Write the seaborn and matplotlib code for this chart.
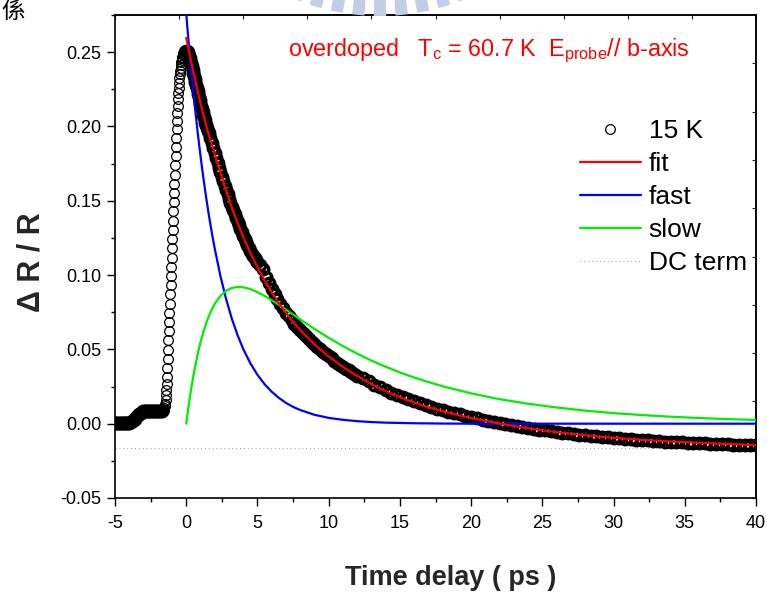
import numpy as np
import matplotlib
matplotlib.use("Agg")
import matplotlib.pyplot as plt
from matplotlib.patches import Wedge
from matplotlib.transforms import IdentityTransform
import seaborn as sns

# ---------------- data ----------------
# measured points (time delay in ps, dR/R)
pre_pts = np.array([
    [-5.0, 0.0004], [-4.9, 0.0006], [-4.8, 0.0003], [-4.7, 0.0005], [-4.6, 0.0004],
    [-4.5, 0.0006], [-4.4, 0.0004], [-4.3, 0.0005], [-4.2, 0.0006], [-4.1, 0.0005],
    [-4.0, 0.0007], [-3.9, 0.0010], [-3.8, 0.0016], [-3.7, 0.0024], [-3.6, 0.0034],
    [-3.5, 0.0045], [-3.4, 0.0056], [-3.3, 0.0066], [-3.2, 0.0074], [-3.1, 0.0080],
    [-3.0, 0.0083], [-2.9, 0.0085], [-2.8, 0.0086], [-2.7, 0.0086], [-2.6, 0.0085],
    [-2.5, 0.0086], [-2.4, 0.0087], [-2.3, 0.0086], [-2.2, 0.0085], [-2.1, 0.0084],
    [-2.0, 0.0085], [-1.9, 0.0085], [-1.8, 0.0084], [-1.7, 0.0085],
])
rise_pts = np.array([
    [-1.600, 0.0087], [-1.575, 0.0090], [-1.550, 0.0095], [-1.525, 0.0104], [-1.500, 0.0117],
    [-1.475, 0.0135], [-1.450, 0.0160], [-1.425, 0.0192], [-1.400, 0.0230], [-1.375, 0.0270],
    [-1.350, 0.0312], [-1.325, 0.0374], [-1.300, 0.0436], [-1.275, 0.0498], [-1.250, 0.0560],
    [-1.225, 0.0622], [-1.200, 0.0684], [-1.175, 0.0746], [-1.150, 0.0808], [-1.125, 0.0870],
    [-1.100, 0.0932], [-1.075, 0.0994], [-1.050, 0.1056], [-1.025, 0.1118], [-1.000, 0.1180],
    [-0.975, 0.1242], [-0.950, 0.1304], [-0.925, 0.1366], [-0.900, 0.1428], [-0.875, 0.1490],
    [-0.850, 0.1552], [-0.825, 0.1614], [-0.800, 0.1676], [-0.775, 0.1738], [-0.750, 0.1800],
    [-0.725, 0.1862], [-0.700, 0.1924], [-0.675, 0.1984], [-0.650, 0.2040], [-0.625, 0.2092],
    [-0.600, 0.2140], [-0.575, 0.2184], [-0.550, 0.2224], [-0.525, 0.2260], [-0.500, 0.2293],
    [-0.475, 0.2323], [-0.450, 0.2350], [-0.425, 0.2374], [-0.400, 0.2395], [-0.375, 0.2414],
    [-0.350, 0.2431], [-0.325, 0.2446], [-0.300, 0.2459], [-0.275, 0.2470], [-0.250, 0.2480],
    [-0.225, 0.2489], [-0.200, 0.2496], [-0.175, 0.2502], [-0.150, 0.2507], [-0.125, 0.2511],
    [-0.100, 0.2514], [-0.075, 0.2515], [-0.050, 0.2515], [-0.025, 0.2513], [0.000, 0.2509],
])
decay_pts = np.array([
    [0.05, 0.2505], [0.10, 0.2498], [0.15, 0.2488], [0.20, 0.2475], [0.25, 0.2460],
    [0.30, 0.2443], [0.35, 0.2424], [0.40, 0.2404], [0.45, 0.2383], [0.50, 0.2362],
    [0.55, 0.2341], [0.60, 0.2320], [0.65, 0.2299], [0.70, 0.2278], [0.75, 0.2257],
    [0.80, 0.2236], [0.85, 0.2216], [0.90, 0.2196], [0.95, 0.2176], [1.00, 0.2156],
    [1.05, 0.2137], [1.10, 0.2118], [1.15, 0.2099], [1.20, 0.2080], [1.25, 0.2061],
    [1.30, 0.2043], [1.35, 0.2025], [1.40, 0.2007], [1.45, 0.1989], [1.50, 0.1971],
    [1.6, 0.1955], [1.7, 0.1920], [1.8, 0.1886], [1.9, 0.1852], [2.0, 0.1819],
    [2.1, 0.1786], [2.2, 0.1754], [2.3, 0.1722], [2.4, 0.1691], [2.5, 0.1660],
    [2.6, 0.1630], [2.7, 0.1600], [2.8, 0.1571], [2.9, 0.1543], [3.0, 0.1515],
    [3.1, 0.1488], [3.2, 0.1461], [3.3, 0.1435], [3.4, 0.1410], [3.5, 0.1385],
    [3.6, 0.1360], [3.7, 0.1336], [3.8, 0.1312], [3.9, 0.1289], [4.0, 0.1266],
    [4.1, 0.1244], [4.2, 0.1222], [4.3, 0.1201], [4.4, 0.1181], [4.5, 0.1162],
    [4.6, 0.1144], [4.7, 0.1127], [4.8, 0.1112], [4.9, 0.1099], [5.0, 0.1088],
    [5.2, 0.1070], [5.4, 0.1040], [5.6, 0.0990], [5.8, 0.0945], [6.0, 0.0905],
    [6.2, 0.0870], [6.4, 0.0838], [6.6, 0.0806], [6.8, 0.0776], [7.0, 0.0748],
    [7.2, 0.0722], [7.4, 0.0697], [7.6, 0.0673], [7.8, 0.0651], [8.0, 0.0630],
    [8.2, 0.0610], [8.4, 0.0590], [8.6, 0.0571], [8.8, 0.0552], [9.0, 0.0534],
    [9.2, 0.0517], [9.4, 0.0500], [9.6, 0.0484], [9.8, 0.0468], [10.0, 0.0453],
    [10.2, 0.0439], [10.4, 0.0424], [10.6, 0.0410], [10.8, 0.0397], [11.0, 0.0384],
    [11.2, 0.0371], [11.4, 0.0359], [11.6, 0.0347], [11.8, 0.0335], [12.0, 0.0324],
    [12.4, 0.0305], [12.8, 0.0284], [13.2, 0.0262], [13.6, 0.0244], [14.0, 0.0226],
    [14.4, 0.0209], [14.8, 0.0194], [15.2, 0.0179], [15.6, 0.0165], [16.0, 0.0151],
    [16.4, 0.0138], [16.8, 0.0125], [17.2, 0.0113], [17.6, 0.0102], [18.0, 0.0091],
    [18.4, 0.0081], [18.8, 0.0071], [19.2, 0.0062], [19.6, 0.0053], [20.0, 0.0044],
    [20.4, 0.0035], [20.8, 0.0027], [21.2, 0.0019], [21.6, 0.0011], [22.0, 0.0004],
    [22.4, -0.0003], [22.8, -0.0010], [23.2, -0.0016], [23.6, -0.0022], [24.0, -0.0028],
    [24.4, -0.0034], [24.8, -0.0040], [25.2, -0.0045], [25.6, -0.0050], [26.0, -0.0055],
    [26.4, -0.0060], [26.8, -0.0064], [27.2, -0.0069], [27.6, -0.0073], [28.0, -0.0077],
    [28.4, -0.0081], [28.8, -0.0085], [29.2, -0.0088], [29.6, -0.0092], [30.0, -0.0095],
    [30.4, -0.0098], [30.8, -0.0101], [31.2, -0.0104], [31.6, -0.0107], [32.0, -0.0110],
    [32.4, -0.0112], [32.8, -0.0115], [33.2, -0.0117], [33.6, -0.0120], [34.0, -0.0122],
    [34.4, -0.0124], [34.8, -0.0126], [35.2, -0.0128], [35.6, -0.0130], [36.0, -0.0131],
    [36.4, -0.0133], [36.8, -0.0135], [37.2, -0.0136], [37.6, -0.0138], [38.0, -0.0139],
    [38.4, -0.0141], [38.8, -0.0142], [39.2, -0.0143], [39.6, -0.0145], [40.0, -0.0146],
])

# fit curves (time delay in ps, value)
fit_t = [0, 0.1, 0.2, 0.3, 0.4, 0.5, 0.6, 0.8, 1.0, 1.2, 1.4, 1.6, 1.8, 2.0, 2.4, 2.8,
         3.2, 3.6, 4.0, 4.5, 5.0, 5.5, 6.0, 6.5, 7.0, 7.5, 8.0, 9, 10, 11, 12, 13, 14,
         15, 16, 17, 18, 19, 20, 22, 24, 26, 28, 30, 32, 34, 36, 38, 40]
fit_v = [0.2596, 0.2550, 0.2505, 0.2460, 0.2415, 0.2370, 0.2326, 0.2240, 0.2158, 0.2080,
         0.2007, 0.1940, 0.1880, 0.1818, 0.1690, 0.1569, 0.1456, 0.1353, 0.1258, 0.1150,
         0.1053, 0.0965, 0.0884, 0.0811, 0.0745, 0.0685, 0.0630, 0.0534, 0.0452, 0.0382,
         0.0321, 0.0266, 0.0219, 0.0178, 0.0142, 0.0111, 0.0084, 0.0060, 0.0038, 0.0001,
         -0.0031, -0.0057, -0.0078, -0.0095, -0.0109, -0.0120, -0.0129, -0.0137, -0.0144]

comp_t = [0, 0.1, 0.2, 0.3, 0.4, 0.5, 0.6, 0.8, 1.0, 1.2, 1.4, 1.6, 1.8, 2.0, 2.4, 2.8,
          3.2, 3.6, 4.0, 4.5, 5.0, 5.5, 6.0, 6.5, 7.0, 7.5, 8.0, 9, 10, 11, 12, 13, 14,
          15, 16, 17, 18, 20, 22, 24, 26, 28, 30, 32, 34, 36, 38, 40]
fast_v = [0.2760, 0.2645, 0.2535, 0.2429, 0.2328, 0.2231, 0.2138, 0.1964, 0.1804, 0.1656,
          0.1521, 0.1397, 0.1283, 0.1179, 0.0994, 0.0839, 0.0707, 0.0597, 0.0503, 0.0407,
          0.0329, 0.0266, 0.0215, 0.0174, 0.0140, 0.0113, 0.0092, 0.0060, 0.0039, 0.0026,
          0.0017, 0.0011, 0.0007, 0.0005, 0.0003, 0.0002, 0.0001, 0.0000, 0.0, 0.0, 0.0,
          0.0, 0.0, 0.0, 0.0, 0.0, 0.0, 0.0]
slow_v = [0.0, 0.0073, 0.0141, 0.0205, 0.0265, 0.0320, 0.0372, 0.0466, 0.0547, 0.0616,
          0.0676, 0.0727, 0.0770, 0.0806, 0.0860, 0.0894, 0.0913, 0.0920, 0.0918, 0.0906,
          0.0885, 0.0860, 0.0831, 0.0800, 0.0767, 0.0735, 0.0702, 0.0638, 0.0578, 0.0522,
          0.0471, 0.0425, 0.0383, 0.0345, 0.0311, 0.0280, 0.0252, 0.0204, 0.0165, 0.0134,
          0.0109, 0.0088, 0.0071, 0.0058, 0.0047, 0.0038, 0.0031, 0.0025]

dc_t = [-5, 40]
dc_v = [-0.0164, -0.0164]

x_ticks = [-5, 0, 5, 10, 15, 20, 25, 30, 35, 40]
y_ticks = [-0.05, 0.00, 0.05, 0.10, 0.15, 0.20, 0.25]
y_ticklabels = ["-0.05", "0.00", "0.05", "0.10", "0.15", "0.20", "0.25"]

# ---------------- style ----------------
sns.set_theme(style="ticks")
plt.rcParams["font.family"] = ["Liberation Sans", "DejaVu Sans"]
plt.rcParams["mathtext.fontset"] = "custom"
plt.rcParams["mathtext.rm"] = "Liberation Sans"
plt.rcParams["mathtext.it"] = "Liberation Sans:italic"
plt.rcParams["mathtext.bf"] = "Liberation Sans:bold"

W, H = 767, 592
fig = plt.figure(figsize=(W / 100, H / 100), dpi=100)
L, R, T, B = 115, 756, 15, 498
ax = fig.add_axes([L / W, 1 - B / H, (R - L) / W, (B - T) / H])

# faint page watermark (part of a striped logo) peeking in at the top
for k in range(-4, 5):
    ang = 270 + 5.6 * k
    fig.patches.append(Wedge((380, H + 207), 223, ang - 1.6, ang + 1.6, width=40,
                             transform=IdentityTransform(), facecolor="#c2cde8",
                             edgecolor="none", zorder=0))

ring_kw = dict(estimator=None, sort=False, linestyle="", marker="o",
               markerfacecolor="none", markeredgecolor="black", color="black")
sns.lineplot(x=rise_pts[:, 0], y=rise_pts[:, 1], ax=ax, markersize=7.0,
             markeredgewidth=0.9, label="15 K", zorder=3, **ring_kw)
sns.lineplot(x=np.concatenate([pre_pts[:, 0], decay_pts[:, 0]]),
             y=np.concatenate([pre_pts[:, 1], decay_pts[:, 1]]), ax=ax,
             markersize=7.6, markeredgewidth=2.4, label="_nolegend_", zorder=3,
             **ring_kw)
sns.lineplot(x=fit_t, y=fit_v, ax=ax, estimator=None, sort=False,
             color="#ff0000", linewidth=1.6, label="fit", zorder=5)
sns.lineplot(x=comp_t, y=fast_v, ax=ax, estimator=None, sort=False,
             color="#0000ff", linewidth=1.6, label="fast", zorder=4)
sns.lineplot(x=comp_t, y=slow_v, ax=ax, estimator=None, sort=False,
             color="#00ee00", linewidth=1.6, label="slow", zorder=4)
sns.lineplot(x=dc_t, y=dc_v, ax=ax, estimator=None, sort=False,
             color="#aaaaaa", linewidth=0.8, linestyle=(0, (1, 2.5)),
             label="DC term", zorder=2)

ax.set_xlim(-5, 40)
ax.set_ylim(-0.05, 0.275)
ax.set_xticks(x_ticks)
ax.set_xticklabels([str(v) for v in x_ticks])
ax.set_yticks(y_ticks)
ax.set_yticklabels(y_ticklabels)
ax.set_xticks(np.array(x_ticks[:-1]) + 2.5, minor=True)
ax.set_yticks(np.array(y_ticks) + 0.025, minor=True)
ax.set_ylim(-0.05, 0.275)

for s in ax.spines.values():
    s.set_visible(True)
    s.set_linewidth(1.2)
    s.set_color("black")
ax.tick_params(which="major", direction="out", length=6, width=1.0,
               labelsize=13, colors="black", pad=4)
ax.tick_params(which="minor", direction="out", length=3, width=1.0, colors="black")
ax.tick_params(axis="x", which="major", pad=6)
ax.grid(False)
ax.set_facecolor("white")

# top / right axes with 10 inward divisions (no labels)
top = ax.secondary_xaxis("top")
top.set_xticks(np.linspace(-5, 40, 11))
top.tick_params(direction="in", length=3, width=0.8, labeltop=False)
right = ax.secondary_yaxis("right")
right.set_yticks(np.linspace(-0.05, 0.275, 11))
right.tick_params(direction="in", length=3, width=0.8, labelright=False)
for sec in (top, right):
    for s in sec.spines.values():
        s.set_linewidth(1.2)

ax.set_xlabel("Time delay ( ps )", fontsize=19.5, fontweight="bold")
ax.xaxis.set_label_coords((451 - L) / (R - L), (B - 565) / (B - T))
ax.set_ylabel("\u0394 R / R", fontsize=22, fontweight="bold", va="center")
ax.yaxis.set_label_coords((31 - L) / (R - L), (B - 262) / (B - T))

ax.text((288 - L) / (R - L), (B - 56) / (B - T),
        r"overdoped   T$_\mathrm{c}$ = 60.7 K  E$_\mathrm{probe}$// b-axis",
        transform=ax.transAxes, color="#ff0000", fontsize=16.8,
        ha="left", va="baseline")

leg = ax.legend(loc="upper left",
                bbox_to_anchor=((580 - L) / (R - L), (B - 119) / (B - T)),
                frameon=False, fontsize=19, handlelength=2.3,
                handletextpad=0.3, labelspacing=0.34, borderpad=0,
                borderaxespad=0)
for txt in leg.get_texts():
    txt.set_color("black")

# caption character at the top-left corner of the page
fig.text(1 / W, 1 - 1 / H, "係", fontsize=17, va="top", ha="left",
         family=["Noto Sans CJK TC", "DejaVu Sans"], color="black")

fig.savefig("out.png", dpi=100, facecolor="white")
